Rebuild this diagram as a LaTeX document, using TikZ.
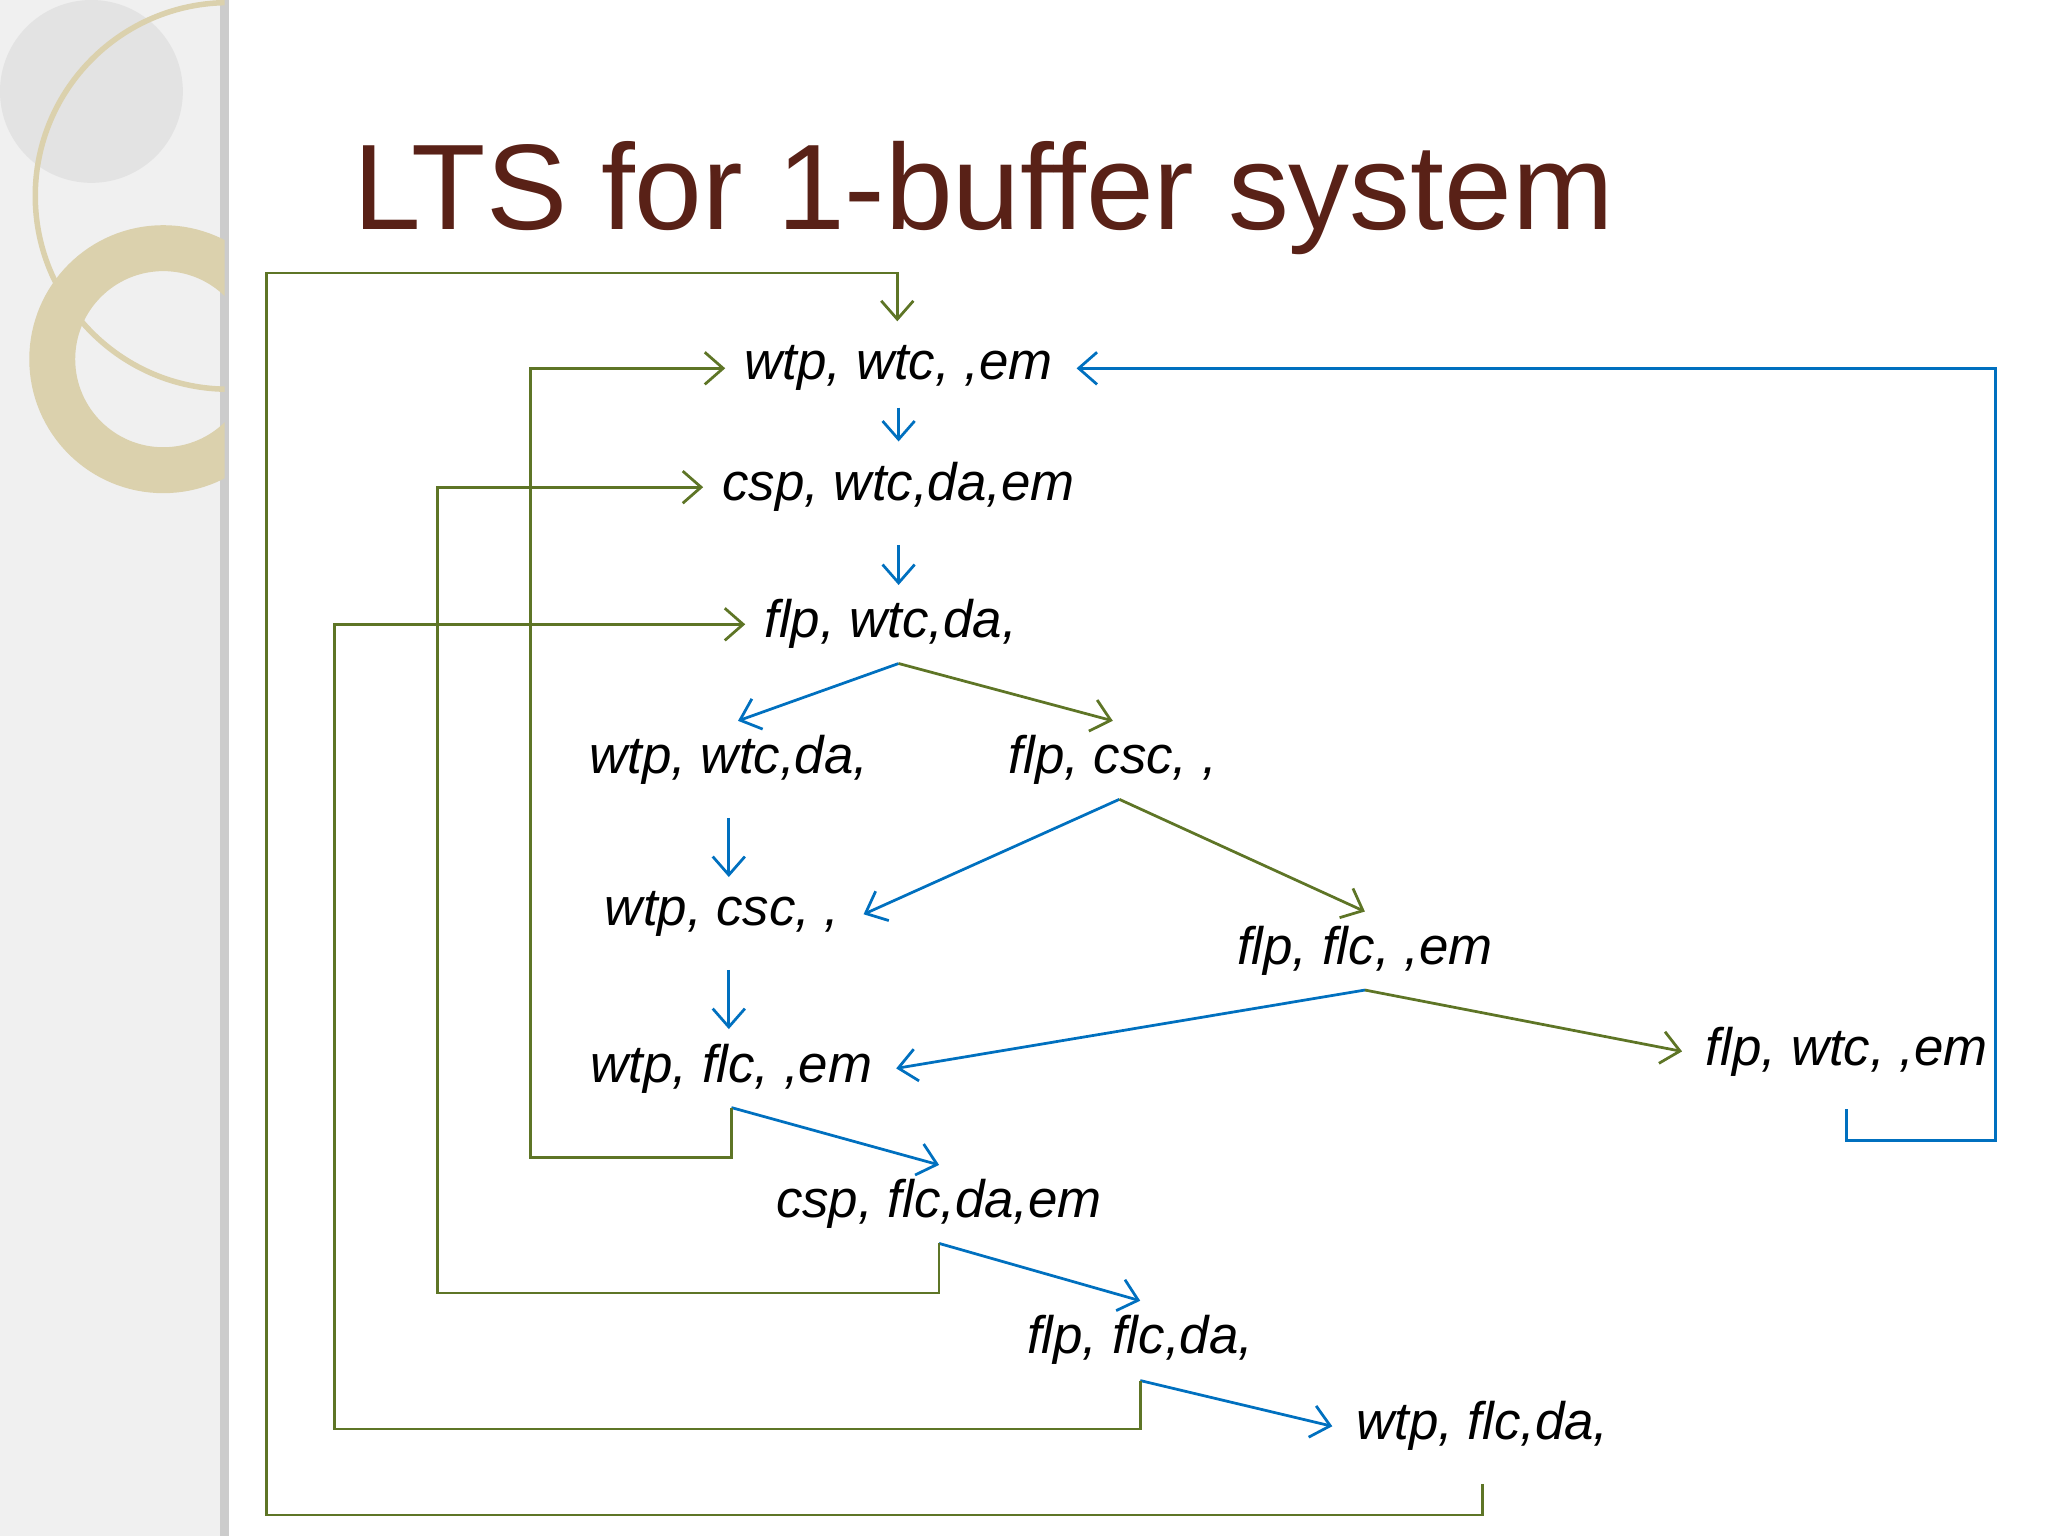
\documentclass[tikz,border=0pt]{standalone}
\usepackage{fontspec}
\setmainfont{Liberation Sans}
\usetikzlibrary{arrows.meta,positioning}
\definecolor{ttl}{rgb}{0.35,0.13,0.09}
\definecolor{blu}{rgb}{0.0,0.44,0.75}
\definecolor{grn}{rgb}{0.37,0.46,0.15}
\definecolor{beige}{rgb}{0.86,0.82,0.68}
\begin{document}
\begin{tikzpicture}
[x=0.01cm,y=-0.01cm]
\tikzstyle{st}=[font=\fontsize{11.5pt}{13pt}\selectfont\itshape,inner sep=1pt]
\tikzstyle{b}=[draw=blu,-{Straight Barb[length=4pt,width=7pt]},line width=0.6pt]
\tikzstyle{g}=[draw=grn,-{Straight Barb[length=4pt,width=7pt]},line width=0.6pt]
\useasboundingbox (0,0) rectangle (1568,1176);
% left strip
\fill[gray!12] (0,0) rectangle (172,1176);
\draw[gray!40,line width=2pt] (172,0) -- (172,1176);
\begin{scope}
\clip (0,0) rectangle (172,1176);
\fill[gray!22] (70,70) circle (70);
\draw[beige,line width=1.2pt] (175,150) circle (148);
\draw[beige,line width=10pt] (125,275) circle (85);
\end{scope}
\node[text=ttl,font=\fontsize{26.5pt}{30pt}\selectfont,anchor=west] (title) at (258,152) {LTS for 1-buffer system};

\node[st] (n1) at (688,282) {wtp, wtc, ,em};
\node[st] (n2) at (688,373) {csp, wtc,da,em};
\node[st] (n3) at (682,478) {flp, wtc,da,};
\node[st] (n4) at (558,582) {wtp, wtc,da,};
\node[st] (n5) at (852,582) {flp, csc, ,};
\node[st] (n6) at (553,700) {wtp, csc, ,};
\node[st] (n7) at (1045,728) {flp, flc, ,em};
\node[st] (n8) at (560,818) {wtp, flc, ,em};
\node[st] (n9) at (1414,805) {flp, wtc, ,em};
\node[st] (n10) at (719,922) {csp, flc,da,em};
\node[st] (n11) at (873,1026) {flp, flc,da,};
\node[st] (n12) at (1135,1092) {wtp, flc,da,};

\coordinate (s3) at (688,508);
\coordinate (s5) at (857,612);
\coordinate (s7) at (1045,758);
\coordinate (s8) at (560,848);
\coordinate (s10) at (719,952);
\coordinate (s11) at (873,1057);
\coordinate (top) at (687,246);

\draw[b] (688,312) -- (688,338);
\draw[b] ([yshift=-6pt]n2.south) -- ([yshift=2pt]n3.north -| n2);
\draw[b] (s3) -- ([xshift=2pt,yshift=2pt]n4.north);
\draw[g] (s3) -- ([yshift=2pt]n5.north);
\draw[b] ([yshift=-6pt]n4.south) -- ([yshift=2pt]n6.north -| n4);
\draw[b] (s5) -- ([xshift=4pt]n6.east);
\draw[g] (s5) -- ([yshift=2pt]n7.north);
\draw[b] ([yshift=-6pt]n6.south -| n4) -- ([yshift=2pt]n8.north -| n4);
\draw[b] (s7) -- ([xshift=4pt]n8.east);
\draw[g] (s7) -- ([xshift=-4pt]n9.west);
\draw[b] (s8) -- ([yshift=2pt]n10.north);
\draw[b] (s10) -- ([yshift=2pt]n11.north);
\draw[b] (s11) -- ([xshift=-4pt]n12.west);

% back loops
\draw[b] ([yshift=-6pt]n9.south) |- (1528,873) |- ([xshift=4pt]n1.east);
\draw[g] (s8) |- (406,886) |- ([xshift=-3pt]n1.west);
\draw[g] (s10) |- (335,990) |- ([xshift=-3pt]n2.west);
\draw[g] (s11) |- (256,1094) |- ([xshift=-3pt]n3.west);
\draw[g] ([yshift=-6pt]n12.south) |- (204,1160) |- (687,209) -- (top);
\end{tikzpicture}
\end{document}
